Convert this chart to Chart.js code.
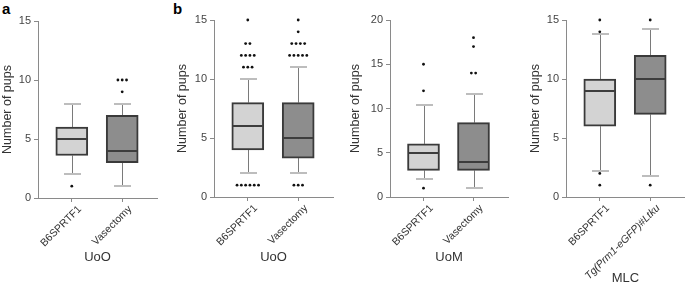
<!DOCTYPE html>
<html><head><meta charset="utf-8">
<script src="https://cdn.jsdelivr.net/npm/chart.js@4"></script>
<style>
body{margin:0;background:#fff;width:685px;height:288px;position:relative;overflow:hidden}
canvas{position:absolute;top:0}
.lbl{position:absolute;font:bold 15px "Liberation Sans",Arial,sans-serif;color:#000;line-height:15px}
</style></head><body>
<div class="lbl" style="left:2px;top:1px">a</div>
<div class="lbl" style="left:173px;top:1px">b</div>
<canvas id="c0" width="160" height="288" style="left:0px"></canvas>
<canvas id="c1" width="166" height="288" style="left:170px"></canvas>
<canvas id="c2" width="166" height="288" style="left:345px"></canvas>
<canvas id="c3" width="158" height="288" style="left:527px"></canvas>
<script>
// ---------- DATA ----------
const categoriesA = ['B6SPRTF1', 'Vasectomy'];
const categoriesB = ['B6SPRTF1', 'Vasectomy'];
const categoriesC = ['B6SPRTF1', 'Vasectomy'];
const categoriesD = ['B6SPRTF1', 'Tg(Prm1-eGFP)#Ltku'];
const xTitles = ['UoO', 'UoO', 'UoM', 'MLC'];
const yTitle = 'Number of pups';
const yMaxes = [15, 15, 20, 15];

// panel a (UoO)
const q1A = [3.6, 3], medA = [5, 4], q3A = [6, 7], loA = [2, 1], hiA = [8, 8];
const outA = [[1], [9, 10, 10, 10]];
// panel b (UoO)
const q1B = [4, 3.3], medB = [6, 5], q3B = [8, 8], loB = [2, 2], hiB = [10, 11];
const outB = [[1, 1, 1, 1, 1, 1, 11, 11, 11, 12, 12, 12, 12, 13, 13, 15],
              [1, 1, 1, 12, 12, 12, 12, 12, 13, 13, 13, 13, 14, 15]];
// panel c (UoM)
const q1C = [3, 3], medC = [5, 4], q3C = [6, 8.4], loC = [2, 1], hiC = [10.4, 11.6];
const outC = [[1, 12, 15], [14, 14, 17, 18]];
// panel d (MLC)
const q1D = [6, 7], medD = [9, 10], q3D = [10, 12], loD = [2.2, 1.8], hiD = [13.8, 14.2];
const outD = [[1, 2, 14, 15], [1, 15]];

// ---------- STYLE / LAYOUT ----------
const FONT = '"Liberation Sans", Arial, sans-serif';
const boxFill = ['#d3d3d3', '#8d8d8d'];
const layouts = [
  {id: 'c0', yW: 38, top: 21, right: 3, xH: 90, titleB: 23, yTitlePad: 0},
  {id: 'c1', yW: 44, top: 20, right: 3, xH: 91, titleB: 23, yTitlePad: 5},
  {id: 'c2', yW: 45, top: 20, right: 3, xH: 91, titleB: 23, yTitlePad: 3},
  {id: 'c3', yW: 39, top: 20, right: 0, xH: 91, titleB: 2, yTitlePad: 1}
];
const panels = [
  {cats: categoriesA, q1: q1A, med: medA, q3: q3A, lo: loA, hi: hiA, out: outA},
  {cats: categoriesB, q1: q1B, med: medB, q3: q3B, lo: loB, hi: hiB, out: outB},
  {cats: categoriesC, q1: q1C, med: medC, q3: q3C, lo: loC, hi: hiC, out: outC},
  {cats: categoriesD, q1: q1D, med: medD, q3: q3D, lo: loD, hi: hiD, out: outD}
];

const boxExtras = {
  id: 'boxExtras',
  beforeDatasetsDraw(chart, args, o) {
    const ctx = chart.ctx, x = chart.scales.x, y = chart.scales.y;
    ctx.save();
    o.cats.forEach((c, i) => {
      const cx = Math.round(x.getPixelForValue(i)) + 0.5;
      ctx.strokeStyle = '#7a7a7a'; ctx.lineWidth = 1;
      ctx.beginPath();
      ctx.moveTo(cx, y.getPixelForValue(o.lo[i])); ctx.lineTo(cx, y.getPixelForValue(o.q1[i]));
      ctx.moveTo(cx, y.getPixelForValue(o.q3[i])); ctx.lineTo(cx, y.getPixelForValue(o.hi[i]));
      ctx.stroke();
      ctx.strokeStyle = '#bdbdbd'; ctx.lineWidth = 2;
      ctx.beginPath();
      [o.lo[i], o.hi[i]].forEach(v => {
        const py = Math.round(y.getPixelForValue(v));
        ctx.moveTo(cx - 8.5, py); ctx.lineTo(cx + 8.5, py);
      });
      ctx.stroke();
    });
    ctx.restore();
  },
  afterDatasetsDraw(chart, args, o) {
    const ctx = chart.ctx, x = chart.scales.x, y = chart.scales.y;
    ctx.save();
    o.cats.forEach((c, i) => {
      const cx = x.getPixelForValue(i);
      ctx.strokeStyle = '#3d3d3d'; ctx.lineWidth = 2;
      const my = Math.round(y.getPixelForValue(o.med[i]));
      ctx.beginPath(); ctx.moveTo(cx - 15, my); ctx.lineTo(cx + 15, my); ctx.stroke();
      const counts = new Map();
      o.out[i].forEach(v => counts.set(v, (counts.get(v) || 0) + 1));
      ctx.fillStyle = '#111';
      counts.forEach((n, v) => {
        const py = y.getPixelForValue(v);
        for (let k = 0; k < n; k++) {
          const px = cx + (k - (n - 1) / 2) * 4.3;
          ctx.beginPath(); ctx.arc(px, py, 1.4, 0, Math.PI * 2); ctx.fill();
        }
      });
    });
    ctx.restore();
  }
};

panels.forEach((p, idx) => {
  const L = layouts[idx];
  new Chart(document.getElementById(L.id), {
    type: 'bar',
    data: {
      datasets: [{
        data: p.cats.map((c, i) => ({x: i, y: [p.q1[i], p.q3[i]]})),
        backgroundColor: boxFill,
        borderColor: '#3a3a3a',
        borderWidth: 2,
        borderSkipped: false,
        barThickness: 32
      }]
    },
    options: {
      responsive: false,
      animation: false,
      events: [],
      layout: {padding: {top: L.top, right: L.right, left: 0, bottom: 0}},
      plugins: {
        legend: {display: false},
        tooltip: {enabled: false},
        boxExtras: {cats: p.cats, lo: p.lo, hi: p.hi, q1: p.q1, q3: p.q3, med: p.med, out: p.out}
      },
      scales: {
        x: {
          type: 'linear', min: -0.67, max: 1.69, offset: false,
          afterBuildTicks: s => { s.ticks = p.cats.map((c, i) => ({value: i})); },
          afterFit: s => { s.height = L.xH; s.paddingLeft = 0; s.paddingRight = 0; },
          ticks: {
            minRotation: 45, maxRotation: 45, autoSkip: false, padding: 1, labelOffset: 8,
            color: '#333',
            font: ctx => ({family: FONT, size: 10.5, style: (idx === 3 && ctx.index === 1) ? 'italic' : 'normal'}),
            callback: (v) => p.cats[v]
          },
          grid: {display: true, drawOnChartArea: false, offset: false, tickLength: 4, color: '#8a8a8a', tickColor: '#8a8a8a'},
          border: {color: '#8a8a8a', width: 1},
          title: {display: true, text: xTitles[idx], color: '#333', font: {family: FONT, size: 13}, padding: {top: 0, bottom: L.titleB}}
        },
        y: {
          min: 0, max: yMaxes[idx],
          afterFit: s => { s.width = L.yW; s.paddingTop = 0; s.paddingBottom = 0; },
          ticks: {stepSize: 5, color: '#444', font: {family: FONT, size: 11}, padding: 3},
          grid: {display: true, drawOnChartArea: false, tickLength: 4, color: '#8a8a8a', tickColor: '#8a8a8a'},
          border: {color: '#8a8a8a', width: 1},
          title: {display: true, text: yTitle, color: '#333', font: {family: FONT, size: 12.5}, padding: {top: L.yTitlePad, bottom: 0}}
        }
      }
    },
    plugins: [boxExtras]
  });
});
</script>
</body></html>
